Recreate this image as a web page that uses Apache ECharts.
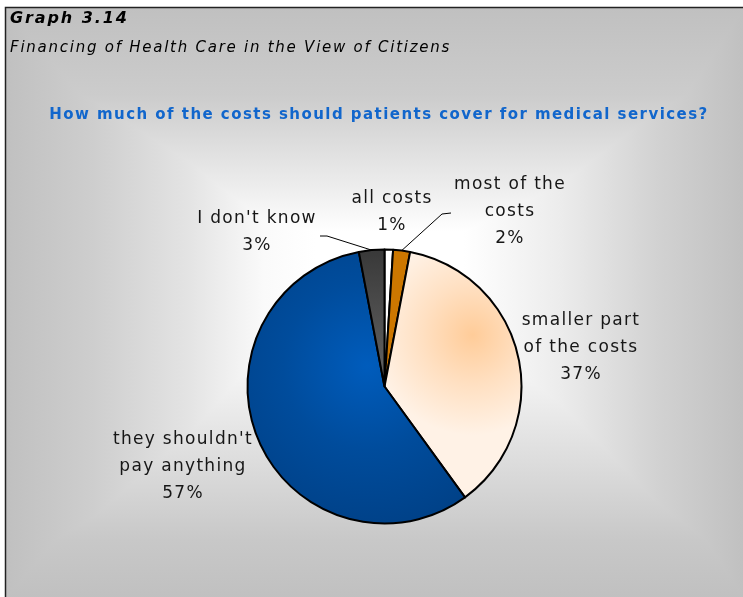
<!DOCTYPE html>
<html>
<head>
<meta charset="utf-8">
<script src="https://cdn.jsdelivr.net/npm/echarts@6/dist/echarts.min.js"></script>
<style>
html,body{margin:0;padding:0;background:#fff;}
#chart{width:743px;height:597px;}
</style>
</head>
<body>
<div id="chart"></div>
<script>
// ---- data ----
const categories = ['all costs', 'most of the\ncosts', 'smaller part\nof the costs', "they shouldn't\npay anything", "I don't know"];
const values = [1, 2, 37, 57, 3];
const titleText = 'Graph 3.14';
const subtitleText = 'Financing of Health Care in the View of Citizens';
const questionText = 'How much of the costs should patients cover for medical services?';

// ---- wide, Verdana-like letter spacing for canvas text ----
(function () {
  const proto = window.CanvasRenderingContext2D && CanvasRenderingContext2D.prototype;
  if (!proto || !('letterSpacing' in proto)) return;
  const orig = proto.fillText;
  proto.fillText = function (t, x, y, m) {
    const f = this.font || '';
    let sp = '1.3px';
    if (/italic/.test(f) && /bold/.test(f)) sp = '1.9px';
    else if (/italic/.test(f)) sp = '1.75px';
    else if (/bold/.test(f)) sp = '1.45px';
    this.letterSpacing = sp;
    return m === undefined ? orig.call(this, t, x, y) : orig.call(this, t, x, y, m);
  };
})();

// ---- styles ----
const FONT = 'DejaVu Sans';
const G = echarts.graphic;
const sliceColors = [
  '#ffffff',
  '#cc7700',
  new G.RadialGradient(0.64, 0.34, 0.72, [
    {offset: 0, color: '#ffcc99'}, {offset: 0.5, color: '#ffe0c2'}, {offset: 1, color: '#fff2e6'}]),
  new G.RadialGradient(0.55, 0.42, 0.85, [
    {offset: 0, color: '#005cbc'}, {offset: 0.45, color: '#004c9c'}, {offset: 1, color: '#003e82'}]),
  new G.LinearGradient(0, 0, 0, 1, [
    {offset: 0, color: '#383838'}, {offset: 1, color: '#666666'}])
];
// label centre positions and leader-line bends (offsets from label centre)
const labelPos = [[392, 212], [510, 212], [581, 348], [183, 467], [257, 232]];
const leaderBends = [null, [[-68, 2], [-59, 1]], null, null, [[70, 4], [63, 4]]];

const data = categories.map((c, i) => ({
  name: c,
  value: values[i],
  itemStyle: {color: sliceColors[i]},
  labelLine: {show: leaderBends[i] !== null}
}));

const chart = echarts.init(document.getElementById('chart'), null, {renderer: 'canvas'});

const hGrad = new G.LinearGradient(0, 0, 1, 0, [
  {offset: 0, color: '#c0c0c0'}, {offset: 0.12, color: '#cecece'}, {offset: 0.25, color: '#e4e4e4'},
  {offset: 0.35, color: '#fafafa'}, {offset: 0.42, color: '#ffffff'}, {offset: 0.62, color: '#ffffff'},
  {offset: 0.75, color: '#ececec'}, {offset: 0.88, color: '#d2d2d2'}, {offset: 1, color: '#c0c0c0'}]);
const vGrad = new G.LinearGradient(0, 0, 0, 1, [
  {offset: 0, color: '#c0c0c0'}, {offset: 0.15, color: '#cccccc'}, {offset: 0.3, color: '#ececec'},
  {offset: 0.38, color: '#ffffff'}, {offset: 0.55, color: '#ffffff'}, {offset: 0.72, color: '#e4e4e4'},
  {offset: 0.9, color: '#c8c8c8'}, {offset: 1, color: '#c0c0c0'}]);

chart.setOption({
  backgroundColor: '#ffffff',
  animation: false,
  graphic: [
    {type: 'rect', z: -10, silent: true, shape: {x: 5, y: 7, width: 740, height: 592}, style: {fill: hGrad}},
    {type: 'rect', z: -9, silent: true, shape: {x: 5, y: 7, width: 740, height: 592}, style: {fill: vGrad, blend: 'darken'}},
    {type: 'polyline', z: -8, silent: true, shape: {points: [[5.5, 600], [5.5, 7.5], [745, 7.5]]}, style: {stroke: '#222', lineWidth: 1.5, fill: null}},
    {type: 'text', z: 5, style: {x: 10, y: 19, text: titleText, fill: '#000', font: 'italic bold 16px "DejaVu Sans"', textVerticalAlign: 'middle'}},
    {type: 'text', z: 5, style: {x: 10, y: 48, text: subtitleText, fill: '#000', font: 'italic 15px "DejaVu Sans"', textVerticalAlign: 'middle'}},
    {type: 'text', z: 5, style: {x: 379, y: 115, text: questionText, fill: '#1166cc', font: 'bold 15px "DejaVu Sans"', textAlign: 'center', textVerticalAlign: 'middle'}}
  ],
  series: [{
    type: 'pie',
    center: [384.5, 386.5],
    radius: 137,
    startAngle: 90,
    clockwise: true,
    avoidLabelOverlap: false,
    silent: true,
    data: data,
    itemStyle: {borderColor: '#000', borderWidth: 2},
    label: {
      position: 'outside',
      formatter: p => p.name + '\n' + p.value + '%',
      fontFamily: FONT,
      fontSize: 17,
      lineHeight: 27,
      color: '#161616',
      align: 'center'
    },
    labelLine: {lineStyle: {color: '#000', width: 1}, length: 10, length2: 10},
    labelLayout: function (params) {
      const i = params.dataIndex;
      const pos = labelPos[i];
      const out = {x: pos[0], y: pos[1], align: 'center', verticalAlign: 'middle'};
      if (leaderBends[i] && params.labelLinePoints) {
        const start = params.labelLinePoints[0];
        out.labelLinePoints = [start].concat(leaderBends[i].map(b => [pos[0] + b[0], pos[1] + b[1]]));
      }
      return out;
    }
  }]
});
</script>
</body>
</html>
